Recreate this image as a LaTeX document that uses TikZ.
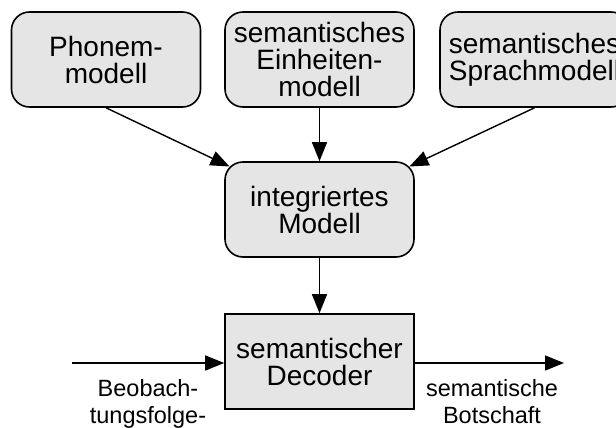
\documentclass[tikz,border=0pt]{standalone}
\usepackage{fontspec}
\setmainfont{Liberation Sans}
\usetikzlibrary{arrows.meta,calc}

\tikzset{
  model/.style={draw=black, line width=1.6pt, fill=gray!20, rounded corners=18pt,
    minimum width=189pt, minimum height=95pt, inner sep=0pt, align=center,
    font=\fontsize{28}{27}\selectfont},
  decoderbox/.style={model, rounded corners=0pt},
  label/.style={inner sep=0pt, align=center, anchor=north,
    font=\fontsize{23.5}{27.5}\selectfont},
  flow/.style={line width=1.4pt, -{Triangle[length=19pt,width=15pt]}}
}

\begin{document}
\begin{tikzpicture}[x=1pt, y=-1pt]
  \clip (0,0) rectangle (616,428);

  % knowledge sources
  \node[model] (phon) at (106,59.5) {Phonem-\\modell};
  \node[model] (unit) at (319.5,59.5) {semantisches\\Einheiten-\\modell};
  \node[model] (lang) at (534.5,59.5) {semantisches\\Sprachmodell};

  % combined model and decoder
  \node[model] (integ) at (319.5,209.5) {integriertes\\Modell};
  \node[decoderbox] (dec) at (319.5,361.5) {semantischer\\Decoder};

  % points on the rounded corners of the combined model
  \coordinate (nwc) at ($(integ.north west)+(5.3,5.3)$);
  \coordinate (nec) at ($(integ.north east)+(-5.3,5.3)$);

  % input and output of the decoder
  \coordinate (in) at (72,363);
  \coordinate (out) at (564,363);

  \draw[flow] (phon.south) -- (nwc);
  \draw[flow] (unit.south) -- (integ.north);
  \draw[flow] (lang.south) -- (nec);
  \draw[flow] (integ.south) -- (dec.north);
  \draw[flow] (in) -- (in -| dec.west);
  \draw[flow] (out -| dec.east) -- (out);

  \node[label] (obs) at (148,379) {Beobach-\\tungsfolge-};
  \node[label] (msg) at (492,379) {semantische\\Botschaft};
\end{tikzpicture}
\end{document}
